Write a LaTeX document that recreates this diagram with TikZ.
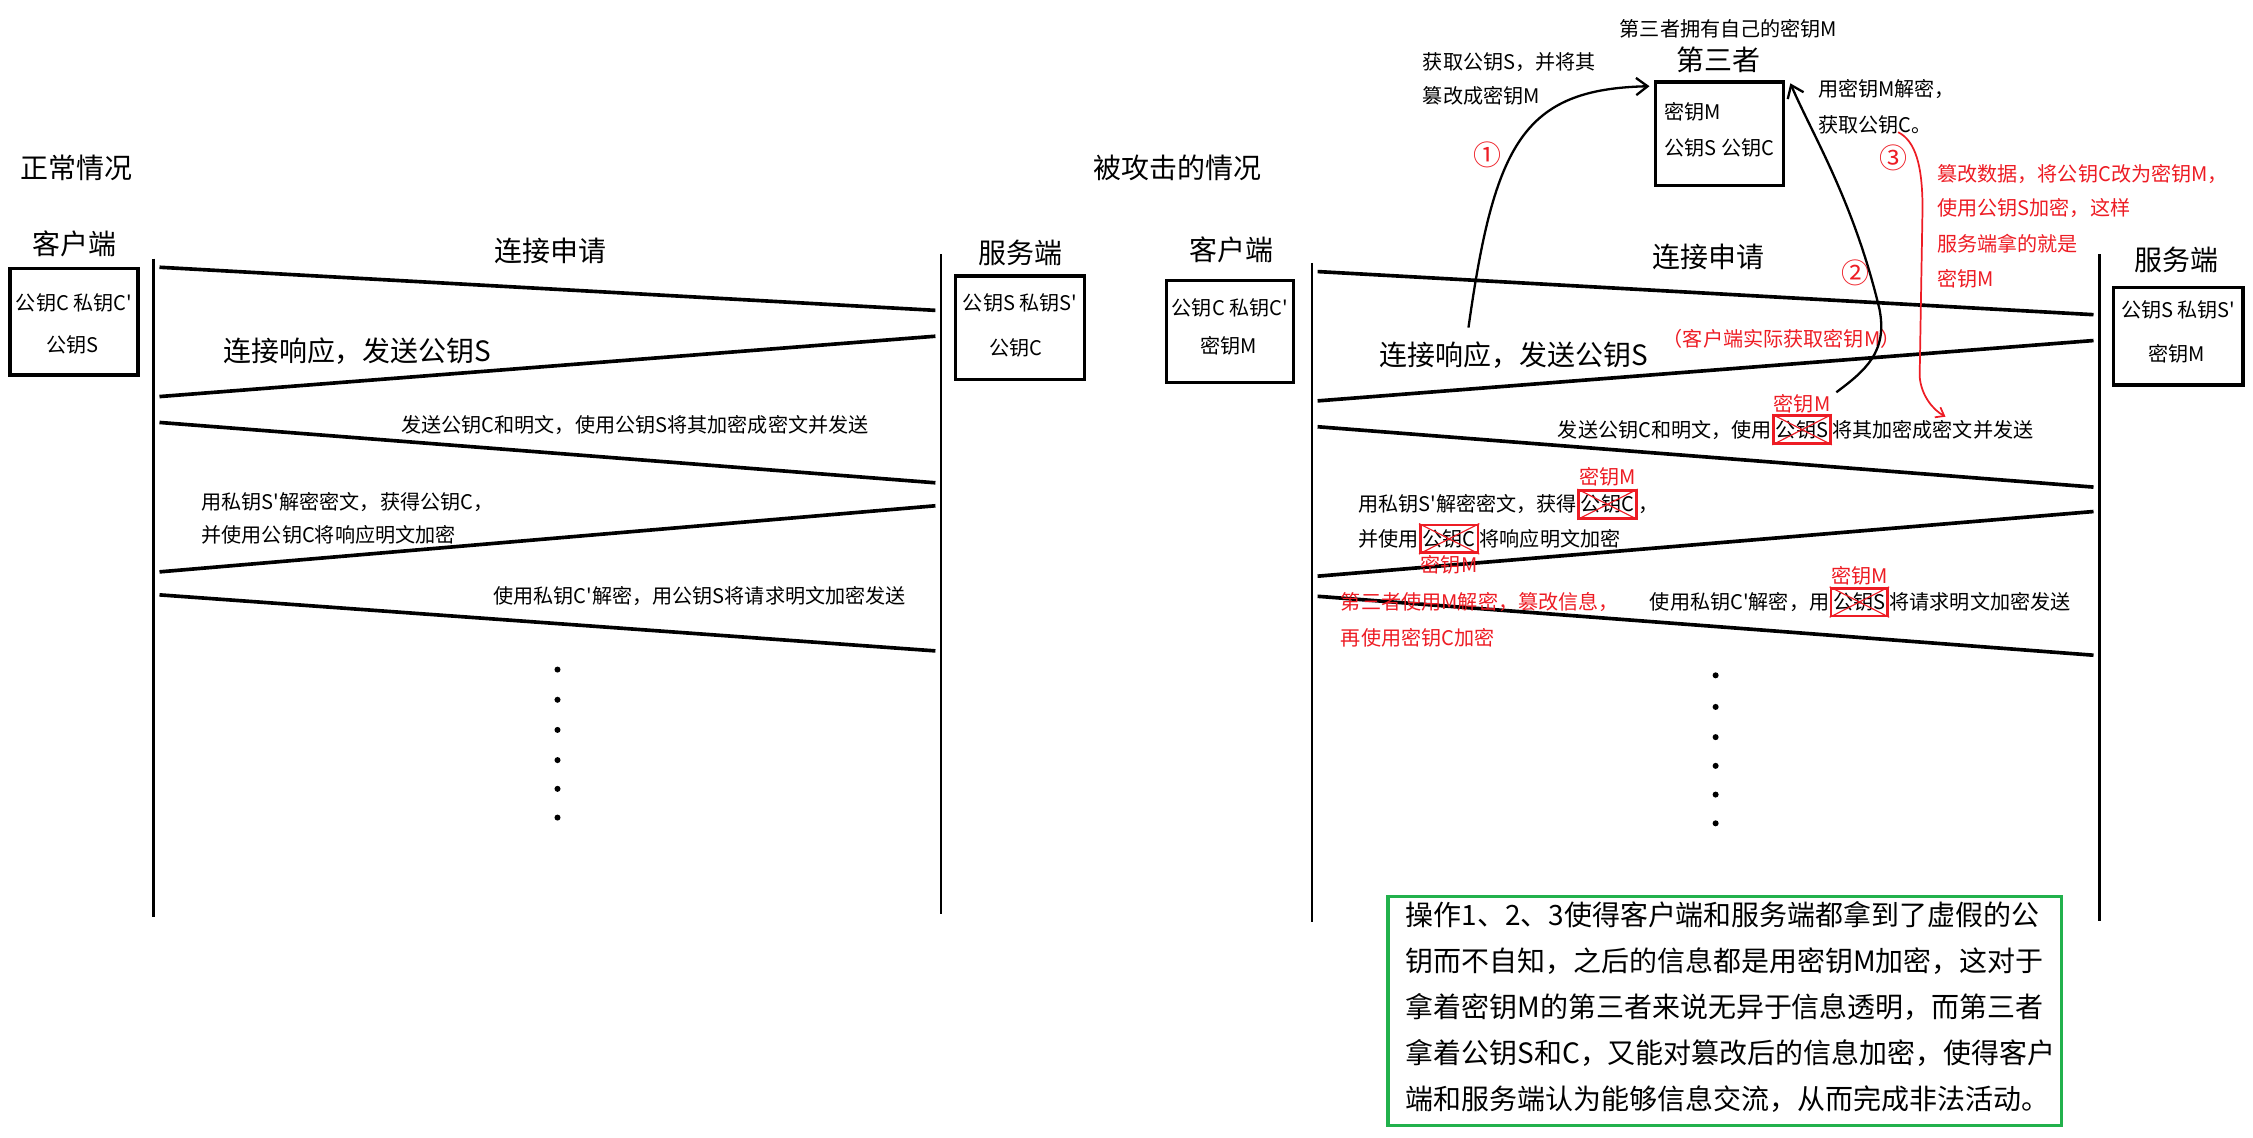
\documentclass[tikz,border=0pt]{standalone}
\usepackage{fontspec}
\newfontfamily\cjk{Noto Sans CJK SC}
\usetikzlibrary{arrows.meta}
\definecolor{pred}{RGB}{237,28,36}
\definecolor{pgreen}{RGB}{34,177,76}
\tikzset{
  big/.style={font=\fontsize{14.6pt}{17pt}\cjk, inner sep=0pt, text height=12.8pt, text depth=1.8pt},
  small/.style={font=\fontsize{10.5pt}{13pt}\cjk, inner sep=0pt, text height=9.2pt, text depth=1.3pt},
  redsmall/.style={small, text=pred},
  redbig/.style={big, text=pred},
  life/.style={line width=1.4pt},
  msg/.style={line width=1.9pt},
  keybox/.style={draw, line width=1.7pt, inner sep=0pt},
  hl/.style={small, draw=pred, line width=1.4pt, inner xsep=1.2pt, inner ysep=2pt},
  cross/.style={draw=pred, line width=0.6pt},
  curve/.style={line width=1.2pt, -{Straight Barb[length=6pt,width=9pt]}},
  redcurve/.style={draw=pred, line width=0.9pt, -{Straight Barb[length=4pt,width=6pt]}},
}
\begin{document}
\begin{tikzpicture}[x=0.75pt, y=-0.75pt]
\useasboundingbox (0,0) rectangle (1568,792);

% ================= left: normal case =================
\node[big, anchor=west] (nt1) at (14,117) {正常情况};
\node[big] (nc1) at (52,170) {客户端};
\node[keybox, minimum width=89*0.75pt, minimum height=74*0.75pt] (cb1) at (51.5,224) {};
\node[small] (cb1a) at (51.5,211) {公钥C 私钥C'};
\node[small] (cb1b) at (50.5,240) {公钥S};
\node[big] (nq1) at (383,175) {连接申请};
\node[big] (ns1) at (710,176) {服务端};
\node[keybox, minimum width=90*0.75pt, minimum height=72*0.75pt] (sb1) at (710,228) {};
\node[small] (sb1a) at (710,211) {公钥S 私钥S'};
\node[small] (sb1b) at (707,242) {公钥C};

\coordinate (l1t) at (107,180); \coordinate (l1b) at (107,638);
\coordinate (r1t) at (655,177); \coordinate (r1b) at (655,636);
\draw[life] (l1t) -- (l1b);
\draw[life] (r1t) -- (r1b);

\coordinate (a1) at (111,186); \coordinate (b1) at (651,216);
\coordinate (a2) at (651,234); \coordinate (b2) at (111,276);
\coordinate (a3) at (111,294); \coordinate (b3) at (651,336);
\coordinate (a4) at (651,352); \coordinate (b4) at (111,398);
\coordinate (a5) at (111,414); \coordinate (b5) at (651,453);
\draw[msg] (a1) -- (b1);
\draw[msg] (a2) -- (b2);
\draw[msg] (a3) -- (b3);
\draw[msg] (a4) -- (b4);
\draw[msg] (a5) -- (b5);

\node[big, anchor=west] (lm2) at (155,244) {连接响应，发送公钥S};
\node[small, anchor=west] (lm3) at (279,296) {发送公钥C和明文，使用公钥S将其加密成密文并发送};
\node[small, anchor=west] (lm4a) at (140,349) {用私钥S'解密密文，获得公钥C，};
\node[small, anchor=west] (lm4b) at (140,372) {并使用公钥C将响应明文加密};
\node[small, anchor=west] (lm5) at (343,415) {使用私钥C'解密，用公钥S将请求明文加密发送};

\foreach \yy in {466,487,508,529,549,569} \fill (388,\yy) circle[radius=2.1];

% ================= right: attacked case =================
\node[big, anchor=west] (nt2) at (761,117) {被攻击的情况};
\node[big] (nc2) at (857,174) {客户端};
\node[keybox, minimum width=88*0.75pt, minimum height=71*0.75pt] (cb2) at (856,230.5) {};
\node[small] (cb2a) at (856,214) {公钥C 私钥C'};
\node[small] (cb2b) at (855,241) {密钥M};
\node[big] (nq2) at (1189,179) {连接申请};
\node[big] (ns2) at (1515,181) {服务端};
\node[keybox, minimum width=90*0.75pt, minimum height=68*0.75pt] (sb2) at (1516,234) {};
\node[small] (sb2a) at (1516,216) {公钥S 私钥S'};
\node[small] (sb2b) at (1515,246) {密钥M};

\coordinate (l2t) at (913,183); \coordinate (l2b) at (913,642);
\coordinate (r2t) at (1461,177); \coordinate (r2b) at (1461,641);
\draw[life] (l2t) -- (l2b);
\draw[life] (r2t) -- (r2b);

\coordinate (c1) at (917,189); \coordinate (d1) at (1457,219);
\coordinate (c2) at (1457,237); \coordinate (d2) at (917,279);
\coordinate (c3) at (917,297); \coordinate (d3) at (1457,339);
\coordinate (c4) at (1457,356); \coordinate (d4) at (917,401);
\coordinate (c5) at (917,415); \coordinate (d5) at (1457,456);
\draw[msg] (c1) -- (d1);
\draw[msg] (c2) -- (d2);
\draw[msg] (c3) -- (d3);
\draw[msg] (c4) -- (d4);
\draw[msg] (c5) -- (d5);

\node[big, anchor=west] (rm2) at (960,247) {连接响应，发送公钥S};
\node[redsmall, anchor=west] (rm2r) at (1157,236) {（客户端实际获取密钥M）};

% message 3
\node[small, anchor=west] (rm3a) at (1084,299) {发送公钥C和明文，使用};
\node[hl, anchor=west] (rm3b) at (rm3a.east) {公钥S};
\node[small, anchor=west] (rm3c) at (rm3b.east) {将其加密成密文并发送};
\draw[cross] (rm3b.north west) -- (rm3b.south east) (rm3b.south west) -- (rm3b.north east);
\node[redsmall, anchor=south] (rm3m) at (rm3b.north) {密钥M};

% message 4
\node[small, anchor=west] (rm4a) at (945,351) {用私钥S'解密密文，获得};
\node[hl, anchor=west] (rm4b) at (rm4a.east) {公钥C};
\node[small, anchor=west] (rm4c) at (rm4b.east) {，};
\draw[cross] (rm4b.north west) -- (rm4b.south east) (rm4b.south west) -- (rm4b.north east);
\node[redsmall, anchor=south] (rm4m) at ([yshift=1pt]rm4b.north) {密钥M};

\node[small, anchor=west] (rm4d) at (945,375) {并使用};
\node[hl, anchor=west] (rm4e) at (rm4d.east) {公钥C};
\node[small, anchor=west] (rm4f) at (rm4e.east) {将响应明文加密};
\draw[cross] (rm4e.north west) -- (rm4e.south east) (rm4e.south west) -- (rm4e.north east);
\node[redsmall, anchor=north] (rm4n) at (rm4e.south) {密钥M};

% message 5
\node[redsmall, anchor=west] (rm5r1) at (933,419) {第三者使用M解密，篡改信息，};
\node[redsmall, anchor=west] (rm5r2) at (933,444) {再使用密钥C加密};
\node[small, anchor=west] (rm5a) at (1148,419) {使用私钥C'解密，用};
\node[hl, anchor=west] (rm5b) at (rm5a.east) {公钥S};
\node[small, anchor=west] (rm5c) at (rm5b.east) {将请求明文加密发送};
\draw[cross] (rm5b.north west) -- (rm5b.south east) (rm5b.south west) -- (rm5b.north east);
\node[redsmall, anchor=south] (rm5m) at (rm5b.north) {密钥M};

\foreach \yy in {470,492,513,533,553,573} \fill (1194,\yy) circle[radius=2.1];

% ================= third party =================
\node[small] (tpnote) at (1203,20) {第三者拥有自己的密钥M};
\node[big] (tpname) at (1196,42) {第三者};
\node[keybox, minimum width=89*0.75pt, minimum height=72*0.75pt] (tpbox) at (1196.5,93) {};
\node[small, anchor=west] (tpa) at (1158,78) {密钥M};
\node[small, anchor=west] (tpb) at (1158,103) {公钥S 公钥C};

\node[small, anchor=west] (s1a) at (990,43) {获取公钥S，并将其};
\node[small, anchor=west] (s1b) at (990,67) {篡改成密钥M};
\node[small, anchor=west] (s2a) at (1265,62) {用密钥M解密，};
\node[small, anchor=west] (s2b) at (1265,87) {获取公钥C。};

\node[redbig] (n1) at (1035,108) {①};
\node[redbig] (n2) at (1291,190) {②};
\node[redbig] (n3) at (1318,110) {③};

\node[redsmall, anchor=west] (s3a) at (1348,121) {篡改数据，将公钥C改为密钥M，};
\node[redsmall, anchor=west] (s3b) at (1348,145) {使用公钥S加密，这样};
\node[redsmall, anchor=west] (s3c) at (1348,170) {服务端拿的就是};
\node[redsmall, anchor=west] (s3d) at (1348,194) {密钥M};

\coordinate (k1s) at (1022,228);
\coordinate (k1e) at (1148,60);
\draw[curve] (k1s) .. controls (1040,100) and (1060,62) .. (k1e);

\coordinate (k2s) at (1278,273);
\coordinate (k2m) at (1308,215);
\coordinate (k2e) at (1246,58);
\draw[curve] (k2s) .. controls (1298,258) and (1314,245) .. (k2m)
  .. controls (1290,140) and (1262,95) .. (k2e);

\coordinate (k3s) at (1321,92);
\coordinate (k3m) at (1338,145);
\coordinate (k3n) at (1336,262);
\coordinate (k3e) at (1354,290);
\draw[redcurve] (k3s) .. controls (1333,98) and (1338,115) .. (k3m) -- (k3n)
  .. controls (1337,275) and (1345,285) .. (k3e);

% ================= summary box =================
\node[draw=pgreen, line width=1.6pt, minimum width=469*0.75pt, minimum height=159*0.75pt, inner sep=0pt] (gbox) at (1200.5,703.5) {};
\node[font=\fontsize{14.6pt}{24pt}\cjk, align=left, anchor=west, inner sep=0pt] (gtext) at (978,701) {操作1、2、3使得客户端和服务端都拿到了虚假的公\\钥而不自知，之后的信息都是用密钥M加密，这对于\\拿着密钥M的第三者来说无异于信息透明，而第三者\\拿着公钥S和C，又能对篡改后的信息加密，使得客户\\端和服务端认为能够信息交流，从而完成非法活动。};
\end{tikzpicture}
\end{document}
